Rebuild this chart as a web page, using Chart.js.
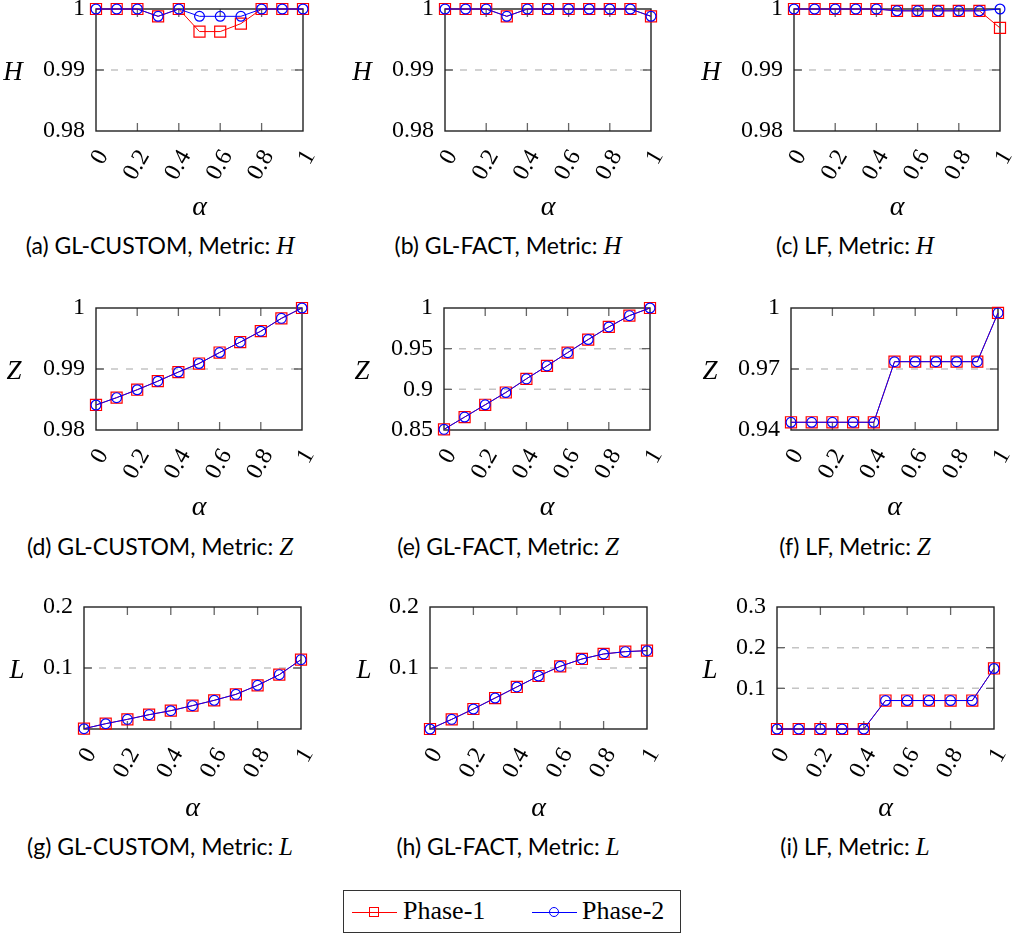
<!DOCTYPE html>
<html><head><meta charset="utf-8">
<script src="https://cdn.jsdelivr.net/npm/chart.js@4.4.0/dist/chart.umd.min.js"></script>
<style>
html,body{margin:0;padding:0;background:#fff;}
body{width:1017px;height:936px;position:relative;overflow:hidden;}
canvas{position:absolute;}
.yt{position:absolute;font:italic 27px 'Liberation Serif',serif;transform:translate(-50%,-50%);line-height:1;color:#000;}
.cap{position:absolute;font:23px Lato,sans-serif;transform:translate(-50%,-50%);white-space:nowrap;line-height:1.2;color:#000;}
.cap i{font-family:'Liberation Serif',serif;font-size:25px;}
#legend{position:absolute;left:343px;top:890px;width:338px;height:43px;box-sizing:border-box;border:1px solid #333;}
#legend .ln{position:absolute;height:1px;width:45px;}
#legend .sq{position:absolute;width:10px;height:10px;box-sizing:border-box;border:1px solid #f00;}
#legend .ci{position:absolute;width:10px;height:10px;box-sizing:border-box;border:1px solid #00f;border-radius:50%;}
#legend .lt{position:absolute;top:5px;font:26px 'Liberation Serif',serif;line-height:30px;color:#000;white-space:nowrap;}
</style></head>
<body>
<div id="legend">
  <div class="ln" style="left:8px;top:21px;background:#f00"></div>
  <div class="sq" style="left:25px;top:16px"></div>
  <span class="lt" style="left:59px">Phase-1</span>
  <div class="ln" style="left:188px;top:21px;background:#00f"></div>
  <div class="ci" style="left:205px;top:16px"></div>
  <span class="lt" style="left:238px">Phase-2</span>
</div>
<script>
// ---------- data ----------
const alpha = [0, 0.1, 0.2, 0.3, 0.4, 0.5, 0.6, 0.7, 0.8, 0.9, 1];
const xTicks = [0, 0.2, 0.4, 0.6, 0.8, 1];

const hGlCustomP1 = [1, 1, 1, 0.9988, 1, 0.9963, 0.9963, 0.9976, 1, 1, 1];
const hGlCustomP2 = [1, 1, 1, 0.9988, 1, 0.9988, 0.9988, 0.9988, 1, 1, 1];
const hGlFactP1 = [1, 1, 1, 0.9988, 1, 1, 1, 1, 1, 1, 0.9988];
const hGlFactP2 = [1, 1, 1, 0.9988, 1, 1, 1, 1, 1, 1, 0.9988];
const hLfP1 = [1, 1, 1, 1, 1, 0.9997, 0.9997, 0.9997, 0.9997, 0.9997, 0.9969];
const hLfP2 = [1, 1, 1, 1, 1, 0.9997, 0.9997, 0.9997, 0.9997, 0.9997, 1];

const zGlCustomP1 = [0.9841, 0.9853, 0.9866, 0.9880, 0.9895, 0.9909, 0.9927, 0.9944, 0.9962, 0.9983, 1];
const zGlCustomP2 = [0.9841, 0.9853, 0.9866, 0.9880, 0.9895, 0.9909, 0.9927, 0.9944, 0.9962, 0.9983, 1];
const zGlFactP1 = [0.8508, 0.8659, 0.8810, 0.8961, 0.9129, 0.9288, 0.9451, 0.9612, 0.9767, 0.9906, 1];
const zGlFactP2 = [0.8508, 0.8659, 0.8810, 0.8961, 0.9129, 0.9288, 0.9451, 0.9612, 0.9767, 0.9906, 1];
const zLfP1 = [0.9438, 0.9438, 0.9438, 0.9438, 0.9438, 0.9736, 0.9736, 0.9736, 0.9736, 0.9736, 0.9976];
const zLfP2 = [0.9438, 0.9438, 0.9438, 0.9438, 0.9438, 0.9736, 0.9736, 0.9736, 0.9736, 0.9736, 0.9976];

const lGlCustomP1 = [0.0005, 0.0087, 0.0158, 0.0235, 0.0300, 0.0383, 0.0470, 0.0568, 0.0716, 0.0891, 0.1137];
const lGlCustomP2 = [0.0005, 0.0087, 0.0158, 0.0235, 0.0300, 0.0383, 0.0470, 0.0568, 0.0716, 0.0891, 0.1137];
const lGlFactP1 = [0, 0.0158, 0.0328, 0.0508, 0.0689, 0.0869, 0.1027, 0.1148, 0.1230, 0.1268, 0.1284];
const lGlFactP2 = [0, 0.0158, 0.0328, 0.0508, 0.0689, 0.0869, 0.1027, 0.1148, 0.1230, 0.1268, 0.1284];
const lLfP1 = [0, 0, 0, 0, 0, 0.0700, 0.0700, 0.0700, 0.0700, 0.0700, 0.1488];
const lLfP2 = [0, 0, 0, 0, 0, 0.0700, 0.0700, 0.0700, 0.0700, 0.0700, 0.1488];

const yTicksH = [0.98, 0.99, 1];
const yTicksZGlCustom = [0.98, 0.99, 1];
const yTicksZGlFact = [0.85, 0.9, 0.95, 1];
const yTicksZLf = [0.94, 0.97, 1];
const yTicksLGl = [0.1, 0.2];
const yTicksLLf = [0.1, 0.2, 0.3];

const seriesNames = ['Phase-1', 'Phase-2'];

// ---------- layout ----------
const rows = [
  {top: 8, bottom: 131, title: 207, cap: 246},
  {top: 308, bottom: 430, title: 507, cap: 547},
  {top: 607, bottom: 729, title: 808, cap: 847}
];
const cols = [{x: 0, w: 340, cap: 160}, {x: 340, w: 340, cap: 508}, {x: 680, w: 337, cap: 855}];

const panels = [
  {r:0,c:0,L:96,R:303,yt:13,yl:'H',min:0.98,max:1,yT:yTicksH,p1:hGlCustomP1,p2:hGlCustomP2,cap:'(a) GL-CUSTOM, Metric: <i>H</i>'},
  {r:0,c:1,L:445,R:651,yt:362,yl:'H',min:0.98,max:1,yT:yTicksH,p1:hGlFactP1,p2:hGlFactP2,cap:'(b) GL-FACT, Metric: <i>H</i>'},
  {r:0,c:2,L:794,R:1000,yt:711,yl:'H',min:0.98,max:1,yT:yTicksH,p1:hLfP1,p2:hLfP2,cap:'(c) LF, Metric: <i>H</i>'},
  {r:1,c:0,L:96,R:302,yt:14,yl:'Z',min:0.98,max:1,yT:yTicksZGlCustom,p1:zGlCustomP1,p2:zGlCustomP2,cap:'(d) GL-CUSTOM, Metric: <i>Z</i>'},
  {r:1,c:1,L:444,R:650,yt:362,yl:'Z',min:0.85,max:1,yT:yTicksZGlFact,p1:zGlFactP1,p2:zGlFactP2,cap:'(e) GL-FACT, Metric: <i>Z</i>'},
  {r:1,c:2,L:791,R:998,yt:710,yl:'Z',min:0.94,max:1,yT:yTicksZLf,p1:zLfP1,p2:zLfP2,cap:'(f) LF, Metric: <i>Z</i>'},
  {r:2,c:0,L:84,R:301,yt:17,yl:'L',min:0,max:0.2,yT:yTicksLGl,p1:lGlCustomP1,p2:lGlCustomP2,cap:'(g) GL-CUSTOM, Metric: <i>L</i>'},
  {r:2,c:1,L:430,R:647,yt:364,yl:'L',min:0,max:0.2,yT:yTicksLGl,p1:lGlFactP1,p2:lGlFactP2,cap:'(h) GL-FACT, Metric: <i>L</i>'},
  {r:2,c:2,L:777,R:994,yt:710,yl:'L',min:0,max:0.3,yT:yTicksLLf,p1:lLfP1,p2:lLfP2,cap:'(i) LF, Metric: <i>L</i>'}
];

const fmt = v => String(+(+v).toFixed(4));
const TICK_FONT = {family: "'Liberation Serif', serif", size: 24};
const TITLE_FONT = {family: "'Liberation Serif', serif", size: 28, style: 'italic', lineHeight: 1.2};

const framePlugin = {
  id: 'frame',
  beforeDatasetsDraw(chart) {
    const {ctx, chartArea} = chart;
    const {left, right, top, bottom} = chartArea;
    const xs = chart.scales.x, ys = chart.scales.y;
    ctx.save();
    ctx.lineWidth = 1.5; ctx.strokeStyle = '#c4c4c4'; ctx.setLineDash([7, 8]);
    ys.ticks.forEach(t => {
      const py = ys.getPixelForValue(t.value);
      if (py > top + 2 && py < bottom - 2) {
        ctx.beginPath(); ctx.moveTo(left, py); ctx.lineTo(right, py); ctx.stroke();
      }
    });
    ctx.setLineDash([]);
    ctx.strokeStyle = '#666'; ctx.lineWidth = 1.3;
    const tl = 8;
    xs.ticks.forEach(t => {
      const px = xs.getPixelForValue(t.value);
      if (px > left + 2 && px < right - 2) {
        ctx.beginPath();
        ctx.moveTo(px, bottom); ctx.lineTo(px, bottom - tl);
        ctx.moveTo(px, top); ctx.lineTo(px, top + tl);
        ctx.stroke();
      }
    });
    ys.ticks.forEach(t => {
      const py = ys.getPixelForValue(t.value);
      if (py > top + 2 && py < bottom - 2) {
        ctx.beginPath();
        ctx.moveTo(left, py); ctx.lineTo(left + tl, py);
        ctx.moveTo(right, py); ctx.lineTo(right - tl, py);
        ctx.stroke();
      }
    });
    ctx.strokeStyle = '#222'; ctx.lineWidth = 1.4;
    ctx.strokeRect(left, top, right - left, bottom - top);
    ctx.restore();
  }
};

panels.forEach(p => {
  const row = rows[p.r], col = cols[p.c];
  const padTop = Math.min(20, row.top);
  const lh = TITLE_FONT.size * TITLE_FONT.lineHeight;
  const xh = (row.title - row.bottom) + lh / 2;
  const yw = p.L - col.x;
  const padR = col.x + col.w - p.R;
  const H = Math.ceil(padTop + (row.bottom - row.top) + xh);

  const cv = document.createElement('canvas');
  cv.width = col.w; cv.height = H;
  cv.style.left = col.x + 'px'; cv.style.top = (row.top - padTop) + 'px';
  cv.style.width = col.w + 'px'; cv.style.height = H + 'px';
  document.body.appendChild(cv);

  const xh2 = H - padTop - (row.bottom - row.top);

  new Chart(cv, {
    type: 'line',
    data: {
      datasets: [
        {
          label: seriesNames[1],
          data: alpha.map((a, i) => ({x: a, y: p.p2[i]})),
          borderColor: '#0000ff', backgroundColor: 'rgba(0,0,0,0)', borderWidth: 1,
          pointStyle: 'circle', pointRadius: 4.9, pointBorderWidth: 1.2,
          pointBorderColor: '#0000ff', pointBackgroundColor: 'rgba(0,0,0,0)',
          tension: 0, order: 1, clip: false
        },
        {
          label: seriesNames[0],
          data: alpha.map((a, i) => ({x: a, y: p.p1[i]})),
          borderColor: '#ff0000', backgroundColor: 'rgba(0,0,0,0)', borderWidth: 1,
          pointStyle: 'rect', pointRadius: 7.8, pointBorderWidth: 1.2,
          pointBorderColor: '#ff0000', pointBackgroundColor: 'rgba(0,0,0,0)',
          tension: 0, order: 2, clip: false
        }
      ]
    },
    options: {
      responsive: false, animation: false, devicePixelRatio: 1, events: [],
      layout: {padding: {left: 0, top: padTop, right: padR, bottom: 0}},
      plugins: {legend: {display: false}, tooltip: {enabled: false}},
      scales: {
        x: {
          type: 'linear', min: 0, max: 1,
          grid: {display: false, drawTicks: false}, border: {display: false},
          afterBuildTicks: s => { s.ticks = xTicks.map(v => ({value: v})); },
          afterFit: s => { s.height = xh2; s.paddingLeft = 0; s.paddingRight = 0; },
          ticks: {minRotation: 60, maxRotation: 60, padding: 14, labelOffset: 7, autoSkip: false,
                  color: '#000', font: TICK_FONT, callback: v => fmt(v)},
          title: {display: true, text: 'α', padding: 0, color: '#000', font: TITLE_FONT}
        },
        y: {
          type: 'linear', min: p.min, max: p.max,
          grid: {display: false, drawTicks: false}, border: {display: false},
          afterBuildTicks: s => { s.ticks = p.yT.map(v => ({value: v})); },
          afterFit: s => { s.width = yw; s.paddingTop = 0; s.paddingBottom = 0; },
          ticks: {padding: 11, color: '#000', font: TICK_FONT, callback: v => fmt(v)}
        }
      }
    },
    plugins: [framePlugin]
  });

  const yt = document.createElement('div');
  yt.className = 'yt'; yt.textContent = p.yl;
  yt.style.left = p.yt + 'px'; yt.style.top = ((row.top + row.bottom) / 2 + 1) + 'px';
  document.body.appendChild(yt);

  const cap = document.createElement('div');
  cap.className = 'cap'; cap.innerHTML = p.cap;
  cap.style.left = col.cap + 'px'; cap.style.top = row.cap + 'px';
  document.body.appendChild(cap);
});
</script>
</body></html>
